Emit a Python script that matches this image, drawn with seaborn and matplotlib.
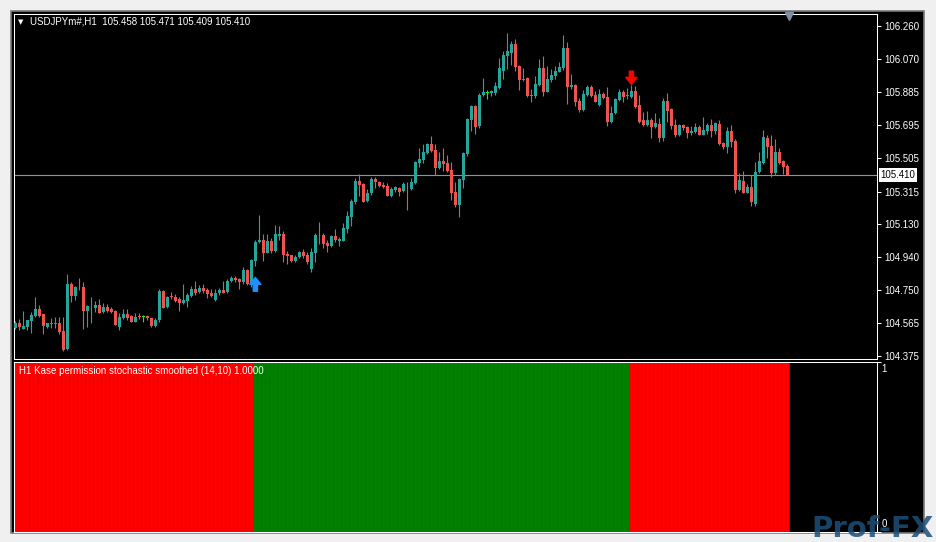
import numpy as np
import pandas as pd
import matplotlib
matplotlib.use('Agg')
import matplotlib.pyplot as plt
import matplotlib.transforms as mtransforms
from matplotlib.patches import Rectangle
import seaborn as sns

symbol = 'USDJPYm#,H1'
indicator_title = 'H1 Kase permission stochastic smoothed (14,10) 1.0000'

# hourly candles (oldest first)
opens = [
    104.533, 104.562, 104.527, 104.543, 104.577, 104.604, 104.644, 104.615, 104.543, 104.562,
    104.562, 104.562, 104.518, 104.415, 104.786, 104.719, 104.770, 104.770, 104.634, 104.661,
    104.647, 104.666, 104.628, 104.657, 104.644, 104.634, 104.543, 104.590, 104.615, 104.605,
    104.570, 104.600, 104.600, 104.604, 104.590, 104.547, 104.581, 104.747, 104.657, 104.719,
    104.711, 104.699, 104.680, 104.691, 104.719, 104.757, 104.741, 104.764, 104.751, 104.737,
    104.695, 104.733, 104.751, 104.741, 104.803, 104.820, 104.814, 104.799, 104.865, 104.789,
    104.918, 105.025, 105.038, 104.965, 105.032, 104.975, 105.061, 105.072, 104.958, 104.952,
    104.917, 104.940, 104.971, 104.952, 104.875, 104.965, 105.066, 105.066, 105.019, 105.004,
    105.061, 105.034, 105.034, 105.102, 105.171, 105.253, 105.375, 105.358, 105.260, 105.304,
    105.386, 105.369, 105.353, 105.346, 105.289, 105.323, 105.337, 105.319, 105.341, 105.329,
    105.362, 105.479, 105.495, 105.535, 105.588, 105.552, 105.449, 105.489, 105.478, 105.437,
    105.313, 105.238, 105.380, 105.529, 105.723, 105.804, 105.688, 105.866, 105.881, 105.876,
    105.878, 105.908, 106.003, 106.090, 106.107, 106.157, 106.032, 105.955, 105.965, 105.864,
    105.862, 105.923, 106.021, 105.884, 105.952, 105.974, 105.999, 106.018, 106.133, 105.910,
    105.923, 105.832, 105.780, 105.866, 105.913, 105.869, 105.809, 105.871, 105.856, 105.713,
    105.761, 105.837, 105.884, 105.864, 105.856, 105.889, 105.809, 105.723, 105.695, 105.723,
    105.685, 105.700, 105.622, 105.832, 105.786, 105.695, 105.637, 105.695, 105.683, 105.647,
    105.655, 105.683, 105.640, 105.660, 105.695, 105.660, 105.699, 105.593, 105.571, 105.660,
    105.603, 105.323, 105.375, 105.308, 105.342, 105.246, 105.424, 105.480, 105.622, 105.575,
    105.419, 105.541, 105.489, 105.458,
]
highs = [
    104.575, 104.585, 104.632, 104.581, 104.628, 104.712, 104.666, 104.615, 104.564, 104.590,
    104.600, 104.597, 104.600, 104.843, 104.799, 104.774, 104.823, 104.799, 104.666, 104.714,
    104.689, 104.699, 104.676, 104.670, 104.654, 104.638, 104.623, 104.642, 104.642, 104.609,
    104.619, 104.623, 104.609, 104.609, 104.594, 104.590, 104.760, 104.751, 104.719, 104.741,
    104.728, 104.711, 104.786, 104.733, 104.774, 104.803, 104.781, 104.789, 104.764, 104.760,
    104.760, 104.766, 104.803, 104.814, 104.835, 104.831, 104.823, 104.881, 104.875, 104.930,
    105.038, 105.180, 105.072, 105.072, 105.051, 105.123, 105.119, 105.089, 104.977, 104.952,
    104.952, 104.977, 104.985, 104.971, 104.991, 105.079, 105.141, 105.076, 105.038, 105.066,
    105.099, 105.053, 105.133, 105.203, 105.270, 105.390, 105.415, 105.362, 105.327, 105.396,
    105.396, 105.376, 105.369, 105.362, 105.342, 105.346, 105.342, 105.370, 105.370, 105.393,
    105.489, 105.561, 105.585, 105.594, 105.630, 105.588, 105.538, 105.561, 105.523, 105.481,
    105.370, 105.393, 105.541, 105.734, 105.812, 105.809, 105.875, 105.965, 105.894, 105.894,
    105.938, 106.079, 106.117, 106.218, 106.174, 106.186, 106.037, 106.021, 105.971, 105.900,
    105.976, 106.071, 106.089, 106.033, 106.015, 106.032, 106.053, 106.209, 106.170, 105.986,
    105.929, 105.847, 105.894, 105.923, 105.923, 105.889, 105.900, 105.884, 105.913, 105.804,
    105.850, 105.900, 105.894, 105.904, 105.923, 105.917, 105.869, 105.767, 105.774, 105.733,
    105.761, 105.733, 105.847, 105.876, 105.793, 105.729, 105.699, 105.699, 105.690, 105.690,
    105.707, 105.695, 105.740, 105.707, 105.729, 105.710, 105.723, 105.599, 105.685, 105.695,
    105.614, 105.418, 105.432, 105.355, 105.409, 105.481, 105.541, 105.666, 105.637, 105.640,
    105.614, 105.561, 105.495, 105.471,
]
lows = [
    104.529, 104.523, 104.527, 104.523, 104.508, 104.598, 104.597, 104.501, 104.535, 104.533,
    104.533, 104.501, 104.405, 104.409, 104.685, 104.695, 104.755, 104.529, 104.543, 104.562,
    104.628, 104.623, 104.623, 104.628, 104.619, 104.552, 104.523, 104.585, 104.581, 104.570,
    104.570, 104.585, 104.572, 104.581, 104.543, 104.543, 104.570, 104.647, 104.651, 104.701,
    104.685, 104.634, 104.672, 104.653, 104.711, 104.723, 104.733, 104.738, 104.704, 104.711,
    104.691, 104.723, 104.733, 104.733, 104.799, 104.799, 104.760, 104.789, 104.781, 104.770,
    104.888, 105.019, 104.918, 104.962, 104.962, 104.971, 105.038, 104.912, 104.903, 104.912,
    104.910, 104.935, 104.935, 104.903, 104.856, 104.912, 105.015, 104.990, 104.971, 104.996,
    105.028, 105.004, 105.034, 105.080, 105.117, 105.243, 105.291, 105.256, 105.256, 105.295,
    105.333, 105.342, 105.333, 105.291, 105.285, 105.313, 105.291, 105.313, 105.209, 105.323,
    105.360, 105.455, 105.480, 105.531, 105.541, 105.409, 105.445, 105.433, 105.428, 105.266,
    105.228, 105.171, 105.337, 105.519, 105.660, 105.643, 105.675, 105.860, 105.843, 105.861,
    105.866, 105.903, 105.957, 106.015, 106.037, 106.001, 105.894, 105.946, 105.856, 105.828,
    105.850, 105.919, 105.862, 105.881, 105.938, 105.957, 105.996, 106.009, 105.814, 105.900,
    105.804, 105.770, 105.774, 105.862, 105.856, 105.824, 105.804, 105.843, 105.690, 105.709,
    105.757, 105.833, 105.828, 105.843, 105.850, 105.792, 105.704, 105.690, 105.690, 105.622,
    105.676, 105.596, 105.603, 105.713, 105.672, 105.627, 105.634, 105.666, 105.622, 105.637,
    105.651, 105.637, 105.640, 105.643, 105.627, 105.643, 105.580, 105.556, 105.536, 105.571,
    105.307, 105.317, 105.308, 105.304, 105.234, 105.234, 105.418, 105.474, 105.507, 105.399,
    105.412, 105.474, 105.415, 105.409,
]
closes = [
    104.562, 104.543, 104.547, 104.581, 104.609, 104.644, 104.604, 104.548, 104.562, 104.563,
    104.563, 104.514, 104.409, 104.786, 104.719, 104.770, 104.768, 104.634, 104.661, 104.662,
    104.666, 104.623, 104.657, 104.634, 104.625, 104.552, 104.600, 104.615, 104.594, 104.570,
    104.600, 104.599, 104.600, 104.590, 104.547, 104.581, 104.747, 104.651, 104.714, 104.711,
    104.689, 104.680, 104.695, 104.723, 104.757, 104.733, 104.764, 104.745, 104.728, 104.717,
    104.733, 104.751, 104.738, 104.803, 104.821, 104.808, 104.799, 104.865, 104.786, 104.922,
    105.028, 105.038, 104.965, 105.032, 104.975, 105.072, 105.072, 104.952, 104.946, 104.917,
    104.942, 104.971, 104.946, 104.912, 104.971, 105.066, 105.068, 105.015, 105.004, 105.061,
    105.038, 105.045, 105.106, 105.175, 105.260, 105.375, 105.352, 105.256, 105.308, 105.386,
    105.370, 105.346, 105.342, 105.291, 105.329, 105.339, 105.313, 105.356, 105.339, 105.367,
    105.485, 105.501, 105.541, 105.588, 105.545, 105.449, 105.489, 105.474, 105.434, 105.308,
    105.238, 105.386, 105.534, 105.729, 105.804, 105.685, 105.869, 105.881, 105.881, 105.889,
    105.917, 106.018, 106.094, 106.117, 106.157, 106.028, 105.952, 105.957, 105.860, 105.866,
    105.929, 106.021, 105.884, 105.957, 105.980, 106.003, 106.024, 106.133, 105.913, 105.923,
    105.828, 105.780, 105.871, 105.913, 105.862, 105.828, 105.871, 105.847, 105.713, 105.761,
    105.843, 105.884, 105.856, 105.866, 105.889, 105.798, 105.713, 105.695, 105.723, 105.685,
    105.707, 105.622, 105.832, 105.774, 105.690, 105.637, 105.695, 105.676, 105.651, 105.660,
    105.683, 105.640, 105.666, 105.695, 105.660, 105.704, 105.584, 105.567, 105.660, 105.599,
    105.323, 105.380, 105.308, 105.342, 105.256, 105.424, 105.489, 105.627, 105.571, 105.419,
    105.541, 105.478, 105.457, 105.410,
]

price_ticks = [106.260, 106.070, 105.885, 105.695, 105.505, 105.315,
               105.130, 104.940, 104.750, 104.565, 104.375]

# Kase permission regimes: first bar of each block and its state
regime_starts = [0, 60, 154]
regime_names = ['sell', 'buy', 'sell']
buy_arrows = [60]
sell_arrows = [154]

BULL = '#26a69a'
BEAR = '#ef5350'
DOJI = '#00ff00'

sns.set_theme(style='dark')
plt.rcParams['font.family'] = ['Liberation Sans', 'DejaVu Sans']

df = pd.DataFrame({'open': opens, 'high': highs, 'low': lows, 'close': closes})
df['bar'] = np.arange(len(df))
df['color'] = np.where(df.close > df.open, BULL, np.where(df.close < df.open, BEAR, DOJI))

regime = []
for k, start in enumerate(regime_starts):
    end = regime_starts[k + 1] if k + 1 < len(regime_starts) else len(df)
    regime += [regime_names[k]] * (end - start)
df['regime'] = regime
df['permission'] = 1.0

W, H = 936, 542
fig = plt.figure(figsize=(W / 100, H / 100), dpi=100, facecolor='#f0f0f0')
fig.patches.append(Rectangle((11 / W, 1 - 533 / H), 913 / W, 522 / H, transform=fig.transFigure,
                             facecolor='black', edgecolor='#7a7a7a', linewidth=1.2, zorder=-5))

ax = fig.add_axes([14 / W, 1 - 358.5 / H, 863 / W, 344.5 / H])
ax2 = fig.add_axes([14 / W, 1 - 532 / H, 863 / W, 170.5 / H])

xlim = (-0.33, 215.4)

for a in (ax, ax2):
    a.set_facecolor('black')
    a.grid(False)
    for s in a.spines.values():
        s.set_visible(True)
        s.set_color('white')
        s.set_linewidth(0.75)

# candles
real = (df.close - df.open).abs()
body = real.clip(lower=0.004)
bottom = np.minimum(df.open, df.close) - (body - real) / 2
ax.vlines(df.bar, df.low, df.high, colors=df.color, linewidth=0.8, zorder=3)
ax.bar(df.bar, body, bottom=bottom, width=0.75, color=df.color, linewidth=0, zorder=4)

ax.axhline(closes[-1], color='#8a94a6', linewidth=0.8, zorder=2)
ax.set_xlim(*xlim)
ax.set_ylim(104.361, 106.329)
ax.set_xticks([])
ax.yaxis.tick_right()
ax.set_yticks(price_ticks)
ax.set_yticklabels([f'{p:.3f}' for p in price_ticks])
ax.tick_params(axis='y', right=True, left=False, labelright=True, labelleft=False,
               colors='white', labelcolor='white', length=3, width=0.75, pad=2,
               labelsize=7, direction='out')

ax.annotate(f'{closes[-1]:.3f}', xy=(1, closes[-1]), xycoords=('axes fraction', 'data'),
            xytext=(2.5, 0), textcoords='offset points', ha='left', va='center',
            fontsize=7, color='black', annotation_clip=False, zorder=7,
            bbox=dict(boxstyle='square,pad=0.2', fc='white', ec='none'))

for b in buy_arrows:
    ax.annotate('', xy=(b, lows[b]), xytext=(0, -18), textcoords='offset points',
                arrowprops=dict(arrowstyle='simple,head_width=0.8,head_length=0.5,tail_width=0.3',
                                color='#1e90ff', shrinkA=0, shrinkB=8, mutation_scale=10), zorder=5)
for s in sell_arrows:
    ax.annotate('', xy=(s, highs[s]), xytext=(0, 10), textcoords='offset points',
                arrowprops=dict(arrowstyle='simple,head_width=0.8,head_length=0.5,tail_width=0.3',
                                color='#ff0000', shrinkA=0, shrinkB=0.5, mutation_scale=10), zorder=5)

# chart shift marker
trans = mtransforms.blended_transform_factory(ax.transData, ax.transAxes)
ax.plot([len(df) - 0.5], [0.993], marker='v', markersize=6, color='#7f8fa6',
        transform=trans, clip_on=False, zorder=6)

# indicator window
sns.barplot(data=df, x='bar', y='permission', hue='regime',
            palette={'buy': '#008000', 'sell': '#ff0000'}, dodge=False, width=1.0,
            saturation=1, errorbar=None, legend=False, ax=ax2, linewidth=0)
for p in ax2.patches:
    p.set_edgecolor(p.get_facecolor())
    p.set_linewidth(0.4)
ax2.set_xlim(*xlim)
ax2.set_ylim(0, 1)
ax2.set_xticks([])
ax2.set_xlabel('')
ax2.set_ylabel('')
ax2.yaxis.tick_right()
ax2.set_yticks([0, 1])
ax2.set_yticklabels([])
ax2.tick_params(axis='y', right=True, left=False, colors='white', length=3, width=0.75,
                direction='out')
ax2.annotate('1', xy=(1, 1), xycoords='axes fraction', xytext=(3, -2), textcoords='offset points',
             ha='left', va='top', fontsize=7, color='white', annotation_clip=False)
ax2.annotate('0', xy=(1, 0), xycoords='axes fraction', xytext=(3, 2), textcoords='offset points',
             ha='left', va='bottom', fontsize=7, color='white', annotation_clip=False)

# window captions
header = f'{symbol}  {opens[-1]:.3f} {highs[-1]:.3f} {lows[-1]:.3f} {closes[-1]:.3f}'
fig.text(17.5 / W, 1 - 22 / H, '\u25bc', fontsize=5, color='white', va='center',
         family='DejaVu Sans')
fig.text(30 / W, 1 - 22 / H, header, fontsize=7, color='white', va='center')
fig.text(19 / W, 1 - 371 / H, indicator_title, fontsize=7, color='white', va='center')

# watermark
fig.text(811 / W, 5 / H, 'Prof-FX', fontsize=21, fontweight='bold', color='#1d4f78',
         alpha=0.85, family='DejaVu Sans', va='baseline')

fig.savefig('out.png', dpi=100, facecolor=fig.get_facecolor())
